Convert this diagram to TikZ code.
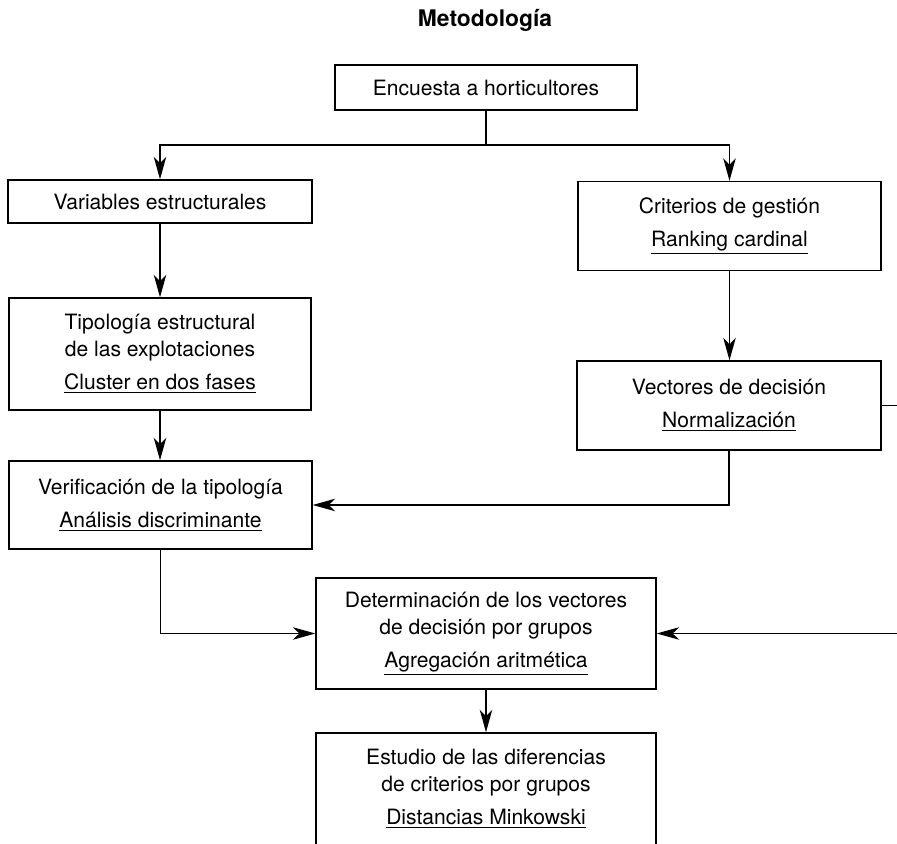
\documentclass[tikz,border=0pt]{standalone}
\usepackage{fontspec}
\setmainfont{TeX Gyre Heros}
\usetikzlibrary{arrows.meta}

\begin{document}
\begin{tikzpicture}[x=0.02cm,y=-0.02cm,
    caja/.style={draw, line width=0.8pt, inner sep=0pt, align=center,
                 font=\fontsize{12}{15.3}\selectfont},
    flecha/.style={line width=0.8pt, -{Stealth[length=4.5mm,width=2.5mm,inset=1.3mm]}},
    linea/.style={line width=0.8pt}]

    % marco de la figura
    \useasboundingbox (0,0) rectangle (897,844);
    \clip (0,0) rectangle (897,844);

    % titulo
    \node (titulo) at (485,20) {\fontsize{13}{15}\selectfont\bfseries Metodología};

    % cajas
    \node[caja, minimum width=6.04cm, minimum height=0.9cm] (encuesta) at (486,87.5) {Encuesta a horticultores};
    \node[caja, minimum width=6.08cm, minimum height=0.86cm] (variables) at (160,201.5) {Variables estructurales};
    \node[caja, minimum width=6.06cm, minimum height=1.78cm] (criterios) at (729.5,226)
        {Criterios de gestión\\[3.5pt]\underline{Ranking cardinal}};
    \node[caja, minimum width=6.04cm, minimum height=2.24cm] (tipologia) at (160,354)
        {Tipología estructural\\de las explotaciones\\[3.5pt]\underline{Cluster en dos fases}};
    \node[caja, minimum width=6.08cm, minimum height=1.78cm] (vectores) at (729,405.5)
        {Vectores de decisión\\[3.5pt]\underline{Normalización}};
    \node[caja, minimum width=6.06cm, minimum height=1.76cm] (verifica) at (160.5,505)
        {Verificación de la tipología\\[3.5pt]\underline{Análisis discriminante}};
    \node[caja, minimum width=6.8cm, minimum height=2.22cm] (grupos) at (486,633.5)
        {Determinación de los vectores\\de decisión por grupos\\[3.5pt]\underline{Agregación aritmética}};
    \node[caja, minimum width=6.8cm, minimum height=2.24cm] (estudio) at (486,789)
        {Estudio de las diferencias\\de criterios por grupos\\[3.5pt]\underline{Distancias Minkowski}};

    % punto de reparto
    \coordinate (reparto) at (486,145);

    % conexiones
    \draw[linea] (encuesta) -- (reparto);
    \draw[flecha] (reparto) -| (variables);
    \draw[flecha] (reparto) -| (criterios);
    \draw[flecha] (variables) -- (tipologia);
    \draw[flecha] (tipologia.south) -- (tipologia.south |- verifica.north);
    \draw[flecha] (criterios.south) -- (criterios.south |- vectores.north);
    \draw[flecha] (vectores.south) |- (verifica.east);
    \draw[flecha] (verifica.south) |- (grupos.west);
    \draw[flecha] (vectores.east) -- ++(40,0) |- (grupos.east);
    \draw[flecha] (grupos) -- (estudio);

\end{tikzpicture}
\end{document}
